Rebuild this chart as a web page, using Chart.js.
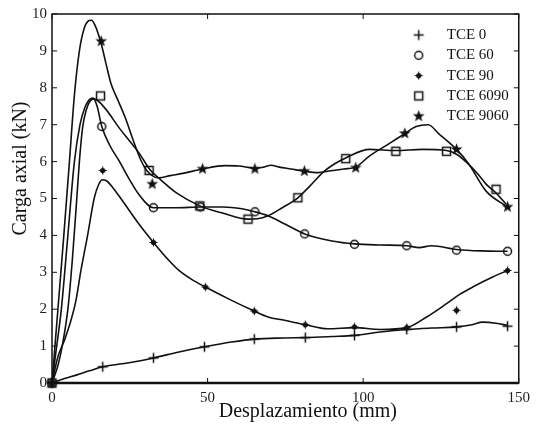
<!DOCTYPE html>
<html>
<head>
<meta charset="utf-8">
<script src="https://cdn.jsdelivr.net/npm/chart.js@4.4.0/dist/chart.umd.min.js"></script>
<style>
    html, body { margin: 0; padding: 0; background: #fff; }
</style>
</head>
<body>
<canvas id="chart" width="536" height="432"></canvas>
<script>
// Curvas (desplazamiento en mm, carga en kN)
const tce0LineX = [0, 4, 8, 12, 16.3, 24.8, 32.6, 40.8, 49, 57.7, 65, 74.7, 81.4, 90, 97.2, 105.5, 114, 122, 130, 135, 138.4, 142.7, 146.4];
const tce0LineY = [0, 0.12, 0.22, 0.33, 0.44, 0.55, 0.68, 0.84, 0.98, 1.11, 1.19, 1.22, 1.23, 1.26, 1.29, 1.38, 1.45, 1.49, 1.52, 1.58, 1.65, 1.62, 1.56];
const tce0MarkX = [0, 16.3, 32.6, 49, 65, 81.4, 97.2, 114, 130, 146.4];
const tce0MarkY = [0, 0.44, 0.68, 0.98, 1.19, 1.23, 1.29, 1.45, 1.52, 1.54];

const tce60LineX = [0, 1.2, 3.0, 5.0, 7.2, 9, 10.5, 12, 13.2, 14.5, 16, 18.5, 21.7, 25, 28, 32.6, 40, 47.7, 55, 61, 65.2, 69.4, 75, 81.2, 90, 97.2, 105, 114, 118, 122, 130, 138, 146.4];
const tce60LineY = [0, 0.8, 2.0, 3.9, 6.0, 7.0, 7.45, 7.68, 7.72, 7.5, 6.95, 6.45, 6.0, 5.5, 5.1, 4.75, 4.75, 4.77, 4.77, 4.72, 4.64, 4.53, 4.3, 4.04, 3.85, 3.77, 3.74, 3.72, 3.67, 3.72, 3.62, 3.58, 3.57];
const tce60MarkX = [0, 16, 32.6, 47.7, 65.2, 81.2, 97.2, 114, 130, 146.4];
const tce60MarkY = [0, 6.95, 4.75, 4.77, 4.64, 4.04, 3.76, 3.72, 3.6, 3.57];

const tce90LineX = [0, 1.9, 4.0, 6.1, 7.7, 9.3, 11.5, 13.6, 15, 16.2, 17.5, 19.5, 22.7, 28, 32.6, 37.6, 40.8, 45, 49.3, 57.7, 65, 69.4, 74.7, 81.4, 88.5, 97.2, 105.5, 114, 120.4, 126.8, 131, 135.2, 141.6, 146.4];
const tce90LineY = [0, 0.71, 1.16, 1.70, 2.24, 3.05, 4.03, 5.02, 5.38, 5.51, 5.48, 5.3, 4.93, 4.3, 3.81, 3.32, 3.05, 2.8, 2.6, 2.24, 1.95, 1.79, 1.7, 1.58, 1.47, 1.5, 1.45, 1.5, 1.79, 2.15, 2.4, 2.6, 2.87, 3.05];
const tce90MarkX = [0, 16.3, 32.6, 49.3, 65, 81.4, 97.2, 114, 130, 146.4];
const tce90MarkY = [0, 5.76, 3.81, 2.6, 1.95, 1.58, 1.52, 1.5, 1.97, 3.05];

const tce6090LineX = [0, 2, 3.5, 5.1, 6.5, 7.8, 8.8, 9.8, 11, 12.3, 13.5, 17, 21.7, 25, 28, 31.5, 35, 40, 47.5, 55, 63, 66, 69.4, 74, 79, 83, 87.5, 91, 94.4, 102, 110.5, 119, 126.8, 130, 134, 137, 139.5, 142.7, 145.9];
const tce6090LineY = [0, 0.5, 1.1, 2.0, 3.3, 4.8, 6.0, 6.9, 7.4, 7.65, 7.7, 7.45, 6.9, 6.55, 6.23, 5.78, 5.5, 5.15, 4.8, 4.6, 4.44, 4.45, 4.53, 4.75, 5.02, 5.35, 5.74, 5.95, 6.1, 6.33, 6.3, 6.33, 6.3, 6.2, 5.92, 5.65, 5.39, 5.15, 4.85];
const tce6090MarkX = [0, 15.6, 31.2, 47.5, 63, 79, 94.4, 110.5, 126.8, 142.7];
const tce6090MarkY = [0, 7.78, 5.76, 4.8, 4.44, 5.02, 6.08, 6.28, 6.28, 5.25];

const tce9060LineX = [0, 1.9, 3.8, 5.6, 7.2, 8.8, 10.3, 11.5, 12.6, 13.8, 15.8, 17.5, 19, 21, 23.5, 26, 28.5, 30.5, 33, 34.4, 38, 42, 48.4, 55.6, 60, 65.2, 68, 70.4, 73, 76.8, 81.1, 85.4, 89.6, 93.8, 97.6, 102, 108.6, 113.4, 117, 120.9, 124.5, 130, 134, 139.5, 146.4];
const tce9060LineY = [0, 2.0, 4.0, 6.0, 7.8, 9.0, 9.6, 9.8, 9.83, 9.7, 9.2, 8.6, 8.1, 7.7, 7.2, 6.6, 6.05, 5.75, 5.58, 5.56, 5.62, 5.68, 5.8, 5.89, 5.88, 5.82, 5.85, 5.9, 5.85, 5.8, 5.74, 5.7, 5.75, 5.8, 5.85, 6.15, 6.5, 6.76, 6.95, 7.0, 6.74, 6.33, 5.93, 5.2, 4.77];
const tce9060MarkX = [0, 15.8, 32.2, 48.4, 65.2, 81.1, 97.6, 113.4, 130, 146.4];
const tce9060MarkY = [0, 9.26, 5.39, 5.8, 5.8, 5.74, 5.83, 6.76, 6.33, 4.77];

const seriesLabels = ['TCE 0', 'TCE 60', 'TCE 90', 'TCE 6090', 'TCE 9060'];
const xTicks = [0, 50, 100, 150];
const yTicks = [0, 1, 2, 3, 4, 5, 6, 7, 8, 9, 10];

const FONT = '"Liberation Serif", "DejaVu Serif", serif';

function pts(xs, ys) {
    return xs.map((x, i) => ({ x: x, y: ys[i] }));
}

// Marcadores dibujados a mano (estilo MATLAB)
function makeMarker(kind) {
    const c = document.createElement('canvas');
    c.width = 15; c.height = 15;
    const g = c.getContext('2d');
    const m = 7.5;
    g.strokeStyle = '#111';
    g.fillStyle = '#111';
    g.lineWidth = 1.5;
    if (kind === 'plus') {
        g.beginPath();
        g.moveTo(m - 5, m); g.lineTo(m + 5, m);
        g.moveTo(m, m - 5); g.lineTo(m, m + 5);
        g.stroke();
    } else if (kind === 'circle') {
        g.beginPath();
        g.arc(m, m, 4, 0, Math.PI * 2);
        g.stroke();
    } else if (kind === 'dot') {
        g.beginPath();
        g.arc(m, m, 2.6, 0, Math.PI * 2);
        g.fill();
        g.lineWidth = 1.1;
        g.beginPath();
        g.moveTo(m - 4, m); g.lineTo(m + 4, m);
        g.moveTo(m, m - 4); g.lineTo(m, m + 4);
        g.stroke();
    } else if (kind === 'square') {
        g.strokeRect(m - 4, m - 4, 8, 8);
    } else if (kind === 'star') {
        g.beginPath();
        for (let i = 0; i < 10; i++) {
            const r = i % 2 === 0 ? 6.2 : 2.6;
            const a = -Math.PI / 2 + i * Math.PI / 5;
            const px = m + r * Math.cos(a), py = m + r * Math.sin(a);
            if (i === 0) g.moveTo(px, py); else g.lineTo(px, py);
        }
        g.closePath();
        g.fill();
    }
    return c;
}

const lines = [
    pts(tce0LineX, tce0LineY),
    pts(tce60LineX, tce60LineY),
    pts(tce90LineX, tce90LineY),
    pts(tce6090LineX, tce6090LineY),
    pts(tce9060LineX, tce9060LineY)
];
const marks = [
    pts(tce0MarkX, tce0MarkY),
    pts(tce60MarkX, tce60MarkY),
    pts(tce90MarkX, tce90MarkY),
    pts(tce6090MarkX, tce6090MarkY),
    pts(tce9060MarkX, tce9060MarkY)
];
const markerKinds = ['plus', 'circle', 'dot', 'square', 'star'];

const datasets = [];
seriesLabels.forEach((label, i) => {
    datasets.push({
        label: label,
        data: lines[i],
        borderColor: '#111',
        borderWidth: 1.6,
        pointRadius: 0,
        cubicInterpolationMode: 'monotone',
        fill: false
    });
});
seriesLabels.forEach((label, i) => {
    datasets.push({
        label: label,
        data: marks[i],
        showLine: false,
        pointStyle: makeMarker(markerKinds[i]),
        pointRadius: 6,
        clip: false,
        inLegend: true
    });
});

// Leyenda dentro del área del gráfico, arriba a la derecha
const markerLegend = {
    id: 'markerLegend',
    afterDraw(chart) {
        const { ctx, chartArea } = chart;
        ctx.save();
        ctx.font = '15px ' + FONT;
        ctx.fillStyle = '#111';
        ctx.textBaseline = 'middle';
        ctx.textAlign = 'left';
        chart.data.datasets.filter(d => d.inLegend).forEach((d, i) => {
            const y = chartArea.top + 21 + i * 20.3;
            const img = d.pointStyle;
            ctx.drawImage(img, chartArea.right - 100 - img.width / 2, y - img.height / 2);
            ctx.fillText(d.label, chartArea.right - 72, y);
        });
        ctx.restore();
    }
};

// Caja y marcas hacia dentro en los cuatro lados
const axesBox = {
    id: 'axesBox',
    afterDraw(chart) {
        const { ctx, chartArea: a, scales } = chart;
        ctx.save();
        ctx.strokeStyle = '#111';
        ctx.lineWidth = 1.5;
        ctx.strokeRect(a.left, a.top, a.right - a.left, a.bottom - a.top);
        ctx.lineWidth = 2.5;
        ctx.beginPath();
        ctx.moveTo(a.left, a.bottom); ctx.lineTo(a.right, a.bottom);
        ctx.stroke();
        ctx.lineWidth = 1;
        ctx.beginPath();
        yTicks.forEach(v => {
            const y = scales.y.getPixelForValue(v);
            ctx.moveTo(a.left, y); ctx.lineTo(a.left + 5, y);
            ctx.moveTo(a.right, y); ctx.lineTo(a.right - 5, y);
        });
        xTicks.forEach(v => {
            const x = scales.x.getPixelForValue(v);
            ctx.moveTo(x, a.bottom); ctx.lineTo(x, a.bottom - 5);
            ctx.moveTo(x, a.top); ctx.lineTo(x, a.top + 5);
        });
        ctx.stroke();
        ctx.restore();
    }
};

new Chart(document.getElementById('chart'), {
    type: 'line',
    data: { datasets: datasets },
    options: {
        responsive: false,
        animation: false,
        layout: { padding: { top: 12, right: 13, left: 0, bottom: 0 } },
        plugins: {
            legend: { display: false },
            tooltip: { enabled: false }
        },
        scales: {
            x: {
                type: 'linear',
                min: 0,
                max: 150,
                afterBuildTicks: s => { s.ticks = xTicks.map(v => ({ value: v })); },
                afterFit: s => { s.height = 49; },
                grid: { display: false, drawTicks: false },
                border: { display: false },
                ticks: { padding: 6, color: '#222', font: { family: FONT, size: 15 } },
                title: {
                    display: true,
                    text: '         Desplazamiento (mm)',
                    color: '#111',
                    font: { family: FONT, size: 20 },
                    padding: { top: 0, bottom: 8 }
                }
            },
            y: {
                min: 0,
                max: 10,
                afterBuildTicks: s => { s.ticks = yTicks.map(v => ({ value: v })); },
                afterFit: s => { s.width = 52; },
                grid: { display: false, drawTicks: false },
                border: { display: false },
                ticks: { padding: 5, color: '#222', font: { family: FONT, size: 15 } },
                title: {
                    display: true,
                    text: '            Carga axial (kN)',
                    color: '#111',
                    font: { family: FONT, size: 20 },
                    padding: { top: 9, bottom: 0 }
                }
            }
        }
    },
    plugins: [axesBox, markerLegend]
});
</script>
</body>
</html>
